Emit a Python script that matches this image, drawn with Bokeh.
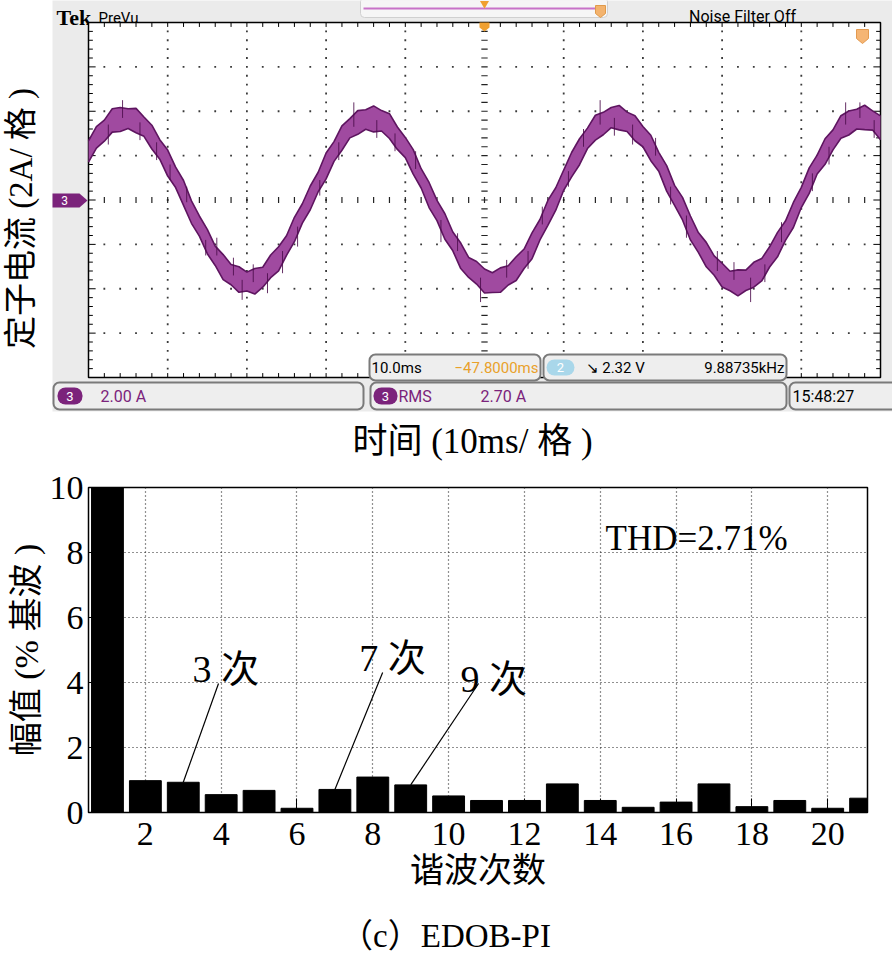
import numpy as np
from bokeh.plotting import figure
from bokeh.models import Range1d, FixedTicker
from bokeh.core.properties import value
from bokeh.embed import file_html
from bokeh.resources import INLINE

# ---------------- scope trace data (stator current, A), one sample per ms ----------------
time_ms = list(range(0, 101))
trace_upper_a = [2.66, 3.31, 3.60, 4.11, 4.17, 4.11, 4.13, 3.74, 3.37, 2.72,
                 2.25, 1.48, 0.88, -0.04, -0.72, -1.32, -2.08, -2.46, -2.91, -3.01,
                 -3.25, -3.09, -3.03, -2.48, -2.11, -1.61, -0.78, -0.17, 0.63, 1.25,
                 2.12, 2.63, 3.34, 3.67, 4.03, 4.07, 4.24, 4.03, 3.89, 3.29,
                 2.82, 2.27, 1.41, 0.79, -0.02, -0.62, -1.44, -1.94, -2.59, -2.77,
                 -3.11, -3.28, -3.06, -2.96, -2.56, -2.21, -1.48, -0.88, -0.02, 0.55,
                 1.35, 2.14, 2.76, 3.24, 3.82, 3.95, 4.17, 4.26, 3.96, 3.80,
                 3.31, 2.92, 2.15, 1.55, 0.66, 0.12, -0.72, -1.47, -1.91, -2.52,
                 -2.85, -3.21, -3.15, -3.16, -2.81, -2.64, -2.11, -1.46, -0.95, -0.11,
                 0.57, 1.45, 2.02, 2.76, 3.16, 3.80, 4.01, 4.09, 4.27, 4.02, 3.79]
trace_lower_a = [1.71, 2.34, 2.65, 3.06, 3.09, 3.22, 3.03, 2.87, 2.30, 1.84,
                 1.08, 0.56, -0.24, -1.05, -1.63, -2.42, -2.95, -3.59, -3.82, -4.16,
                 -4.10, -4.24, -3.93, -3.50, -3.19, -2.50, -1.88, -1.04, -0.44, 0.37,
                 0.95, 1.74, 2.24, 2.80, 2.96, 3.19, 3.07, 3.11, 2.77, 2.28,
                 1.91, 1.17, 0.54, -0.34, -0.93, -1.77, -2.29, -3.09, -3.49, -3.79,
                 -4.19, -4.17, -4.16, -3.83, -3.63, -3.09, -2.65, -1.80, -1.14, -0.46,
                 0.44, 1.04, 1.59, 2.32, 2.70, 2.94, 3.26, 3.16, 3.09, 2.67,
                 2.40, 1.77, 1.30, 0.40, -0.24, -0.90, -1.80, -2.36, -3.01, -3.39,
                 -3.92, -4.09, -4.32, -4.08, -3.93, -3.65, -3.02, -2.56, -1.82, -1.24,
                 -0.34, 0.30, 1.17, 1.61, 2.26, 2.78, 2.93, 3.20, 3.17, 3.15, 2.72]
spike_t_ms = [6.5, 10.3, 14.8, 16.2, 19.4, 20.8, 24.5, 29.2, 33.5, 38.7, 44.5, 49.5,
              52.8, 57.3, 60.6, 64.6, 68.7, 75.5, 79.4, 83.6, 87.5, 91.4, 95.6, 99.2,
              2.5, 4.3, 8.6, 12.4, 18.3, 22.6, 26.4, 31.6, 36.4, 41.3, 46.6, 55.5,
              62.5, 66.4, 71.6, 73.5, 81.5, 85.4, 93.5, 97.4]
spike_from_a = [3.5, 1.6, -1.8, -2.5, -3.6, -3.7, -2.3, 0.9, 3.3, 3.0, -0.9, -3.5,
                -3.5, -1.1, 1.3, 3.4, 3.4, -0.7, -3.2, -3.5, -1.9, 1.2, 3.4, 3.6,
                3.4, 3.7, 2.6, -0.1, -3.4, -3.3, -1.2, 2.6, 3.6, 1.4, -2.3, -2.3,
                2.4, 3.7, 2.0, 0.6, -3.6, -2.9, 2.4, 3.7]
spike_to_a = [2.7, 0.9, -2.5, -1.7, -4.5, -2.9, -3.3, 0.2, 4.4, 2.2, -1.9, -4.6,
              -2.7, -0.3, 0.6, 4.5, 2.5, -1.7, -2.3, -4.6, -1.0, 0.4, 4.4, 2.8,
              2.5, 4.5, 1.8, 0.6, -2.6, -4.2, -2.1, 1.8, 2.8, 2.2, -1.5, -3.1,
              3.2, 2.9, 2.8, -0.2, -2.8, -3.7, 1.6, 4.4]

# ---------------- harmonic spectrum data ----------------
harmonic_order = list(range(1, 22))
harmonic_pct = [100.0, 0.98, 0.93, 0.55, 0.68, 0.13, 0.71, 1.09, 0.85, 0.51, 0.37,
                0.37, 0.88, 0.37, 0.16, 0.32, 0.88, 0.18, 0.37, 0.13, 0.44]
x_ticks = [2, 4, 6, 8, 10, 12, 14, 16, 18, 20]
y_ticks = [0, 2, 4, 6, 8, 10]
thd_text = "THD=2.71%"
callout_labels = ["3 次", "7 次", "9 次"]
callout_order = [3, 7, 9]
callout_end_x = [3.93, 8.26, 10.79]
callout_end_y = [3.97, 4.31, 3.97]
callout_text_x = [4.12, 8.52, 11.19]
callout_text_y = [4.43, 4.74, 4.12]
caption = "（c）EDOB-PI"

# ---------------- layout helpers (reference pixel -> scope data units) ----------------
PX_T = 7.92      # px per ms
PX_A = 22.1875   # px per A
def X(px):
    return (px - 88) / PX_T
def Y(py):
    return (199.5 - py) / PX_A

SANS = "Roboto"
CJK = "Liberation Serif, Noto Sans CJK SC"
PURPLE = "#7b237b"

def txt(p, x, y, s, size, color="black", font=SANS, align="left",
        baseline="middle", style="normal", angle=0.0):
    p.text(x=[x], y=[y], text=[s], text_font=value(font), text_font_size=f"{size}px",
           text_color=color, text_align=align, text_baseline=baseline,
           text_font_style=style, angle=angle)

W = 892
H1 = 465
p1 = figure(width=W, height=H1, x_range=Range1d(X(0), X(892)), y_range=Range1d(Y(465), Y(0)),
            x_axis_type=None, y_axis_type=None, toolbar_location=None, output_backend="svg",
            min_border=0, outline_line_color=None, background_fill_color="white",
            border_fill_color="white")

# gray instrument panel
p1.quad(left=X(52), right=X(900), top=Y(-5), bottom=Y(411), fill_color="#ebebeb", line_color=None)

# header
txt(p1, X(56), Y(17), "Tek", 22, font="Liberation Serif", style="bold", baseline="alphabetic")
txt(p1, X(98), Y(17), "PreVu", 15, baseline="alphabetic")
txt(p1, X(742), Y(16), "Noise Filter Off", 16, align="center", baseline="alphabetic")
p1.quad(left=X(360), right=X(607), top=Y(-3), bottom=Y(17), fill_color="#f6f6f6",
        line_color="#d0d0d0", border_radius=4)
p1.segment(x0=[X(363)], y0=[Y(8)], x1=[X(598)], y1=[Y(8)], line_color="#c873c8", line_width=2)
p1.scatter(x=[X(484)], y=[Y(3)], marker="inverted_triangle", size=9, fill_color="#f0a030", line_color=None)
p1.patch(x=[X(595), X(605), X(605), X(600), X(595)], y=[Y(5), Y(5), Y(13), Y(17), Y(13)],
         fill_color="#f3b36e", line_color="#e09a4a")

# graticule area
T_MIN, T_MAX, A_MIN, A_MAX = 0, 100, -8, 8
p1.quad(left=T_MIN, right=T_MAX, top=A_MAX, bottom=A_MIN, fill_color="white",
        line_color="black", line_width=1.5)

# dotted graticule
vx, vy = [], []
for t in range(10, 100, 10):
    if t == 50:
        continue
    for k in range(1, 40):
        vx.append(t); vy.append(A_MIN + 0.4 * k)
for a in (-6, -4, -2, 2, 4, 6):
    for k in range(1, 50):
        if (2 * k) % 10 == 0:
            continue
        vx.append(2 * k); vy.append(a)
p1.scatter(x=vx, y=vy, marker="square", size=1.8, fill_color="#3a3a3a", line_color=None)

# centre cross ticks
ct = [2 * k for k in range(1, 50)]
p1.segment(x0=ct, y0=[-0.14] * len(ct), x1=ct, y1=[0.14] * len(ct), line_color="#222", line_width=1.2)
ca = [A_MIN + 0.4 * k for k in range(1, 40)]
p1.segment(x0=[49.6] * len(ca), y0=ca, x1=[50.4] * len(ca), y1=ca, line_color="#222", line_width=1.2)

# border ticks
bt = [2 * k for k in range(1, 50)]
p1.segment(x0=bt, y0=[A_MAX] * len(bt), x1=bt, y1=[A_MAX - 0.2] * len(bt), line_color="black")
p1.segment(x0=bt, y0=[A_MIN] * len(bt), x1=bt, y1=[A_MIN + 0.2] * len(bt), line_color="black")
ba = [A_MIN + 0.4 * k for k in range(1, 40)]
bl = [0.9 if (k % 5 == 0) else 0.55 for k in range(1, 40)]
p1.segment(x0=[T_MIN] * len(ba), y0=ba, x1=[T_MIN + l for l in bl], y1=ba, line_color="black")
p1.segment(x0=[T_MAX] * len(ba), y0=ba, x1=[T_MAX - l for l in bl], y1=ba, line_color="black")

# waveform
p1.varea(x=time_ms, y1=trace_lower_a, y2=trace_upper_a, fill_color="#a04aa0")
p1.line(x=time_ms, y=trace_upper_a, line_color="#5e1560", line_width=1.6)
p1.line(x=time_ms, y=trace_lower_a, line_color="#5e1560", line_width=1.6)
p1.segment(x0=spike_t_ms, y0=spike_from_a, x1=spike_t_ms, y1=spike_to_a,
           line_color="#4a0c4a", line_width=1.0, line_alpha=0.85)

# trigger markers
p1.patch(x=[X(479), X(489), X(489), X(484), X(479)], y=[Y(22), Y(22), Y(27), Y(31), Y(27)],
         fill_color="#f0a030", line_color=None)
p1.patch(x=[X(856), X(868), X(868), X(862), X(856)], y=[Y(29), Y(29), Y(38), Y(43), Y(38)],
         fill_color="#f5b574", line_color="#e39a50")

# channel 3 ground marker
p1.patch(x=[X(52), X(79), X(87), X(79), X(52)], y=[Y(193), Y(193), Y(200), Y(207), Y(207)],
         fill_color=PURPLE, line_color=None)
txt(p1, X(64), Y(200), "3", 12, color="white", align="center")

# status boxes
def box(l, r, t, b):
    p1.quad(left=X(l), right=X(r), top=Y(t), bottom=Y(b), fill_color="#eeeeee",
            line_color="#7a7a7a", line_width=2, border_radius=6)
def pill(l, r, t, b, color, label):
    p1.quad(left=X(l), right=X(r), top=Y(t), bottom=Y(b), fill_color=color,
            line_color=None, border_radius=8)
    txt(p1, X((l + r) / 2), Y((t + b) / 2), label, 13, color="white", align="center")

box(369, 540, 354, 380)
txt(p1, X(371), Y(367), "10.0ms", 15)
txt(p1, X(538), Y(367), "\u221247.8000ms", 15, color="#e9a12a", align="right")
box(543, 786, 354, 380)
pill(546, 574, 359, 375, "#a9d7ea", "2")
txt(p1, X(585), Y(367), "\u2198 2.32 V", 15)
txt(p1, X(784), Y(367), "9.88735kHz", 15, align="right")

box(53, 363, 382, 409)
pill(57, 82, 387, 404, PURPLE, "3")
txt(p1, X(100), Y(396), "2.00 A", 16, color=PURPLE)
box(370, 786, 382, 409)
pill(373, 397, 387, 404, PURPLE, "3")
txt(p1, X(398), Y(396), "RMS", 16, color=PURPLE)
txt(p1, X(480), Y(396), "2.70 A", 16, color=PURPLE)
box(789, 900, 382, 409)
txt(p1, X(792), Y(396), "15:48:27", 16)

# scope axis titles
txt(p1, X(20), Y(218), "定子电流 (2A/ 格 )", 33, font=CJK, align="center", angle=np.pi / 2)
txt(p1, X(472), Y(441), "时间 (10ms/ 格 )", 35, font=CJK, align="center")

# ---------------- harmonic spectrum ----------------
H2 = 440
p2 = figure(width=W, height=H2, x_range=Range1d(0.5, 21.05), y_range=Range1d(0, 10),
            toolbar_location=None, output_backend="svg",
            min_border_left=88, min_border_right=25, min_border_top=22, min_border_bottom=93,
            outline_line_color="black", outline_line_width=1.5,
            background_fill_color="white", border_fill_color="white")
p2.vbar(x=harmonic_order, top=harmonic_pct, width=0.84, fill_color="black", line_color="black")

p2.xaxis.ticker = FixedTicker(ticks=x_ticks)
p2.yaxis.ticker = FixedTicker(ticks=y_ticks)
for ax in (p2.xaxis[0], p2.yaxis[0]):
    ax.major_label_text_font = "Liberation Serif"
    ax.major_label_text_font_size = "34px"
    ax.major_label_text_color = "black"
    ax.major_tick_out = 0
    ax.axis_line_color = "black"
    ax.major_tick_line_color = "black"
    ax.minor_tick_line_color = None
    ax.axis_label_text_font = CJK
    ax.axis_label_text_font_style = "normal"
    ax.axis_label_text_font_size = "34px"
    ax.axis_label_text_color = "black"
p2.xaxis.major_tick_in = 14
p2.yaxis.major_tick_in = 6
p2.xaxis.major_label_standoff = 10
p2.yaxis.major_label_standoff = 5
p2.xaxis.axis_label = "谐波次数"
p2.yaxis.axis_label = "幅值 (% 基波 )"
p2.xaxis.axis_label_standoff = 4
p2.yaxis.axis_label_standoff = 2

p2.xgrid.ticker = FixedTicker(ticks=x_ticks)
p2.ygrid.ticker = FixedTicker(ticks=[2, 4, 6, 8])
p2.grid.grid_line_color = "#222222"
p2.grid.grid_line_dash = "1 3"
p2.grid.grid_line_width = 1.2

# THD and call-outs
p2.text(x=[14.14], y=[8.43], text=[thd_text], text_font=value("Liberation Serif"),
        text_font_size="35px", text_color="black", text_align="left", text_baseline="alphabetic")
start_y = [harmonic_pct[o - 1] for o in callout_order]
p2.segment(x0=callout_order, y0=start_y, x1=callout_end_x, y1=callout_end_y,
           line_color="black", line_width=1.2)
p2.text(x=callout_text_x, y=callout_text_y, text=callout_labels, text_font=value(CJK),
        text_font_size="38px", text_color="black", text_align="center", text_baseline="alphabetic")

# ---------------- caption strip ----------------
H3 = 958 - H1 - H2
p3 = figure(width=W, height=H3, x_range=Range1d(0, W), y_range=Range1d(0, H3),
            x_axis_type=None, y_axis_type=None, toolbar_location=None, output_backend="svg",
            min_border=0, outline_line_color=None, background_fill_color="white",
            border_fill_color="white")
p3.text(x=[445], y=[23], text=[caption], text_font=value(CJK), text_font_size="33px",
        text_color="black", text_align="center", text_baseline="middle")

open("out.html", "w").write(file_html([p1, p2, p3], INLINE))
